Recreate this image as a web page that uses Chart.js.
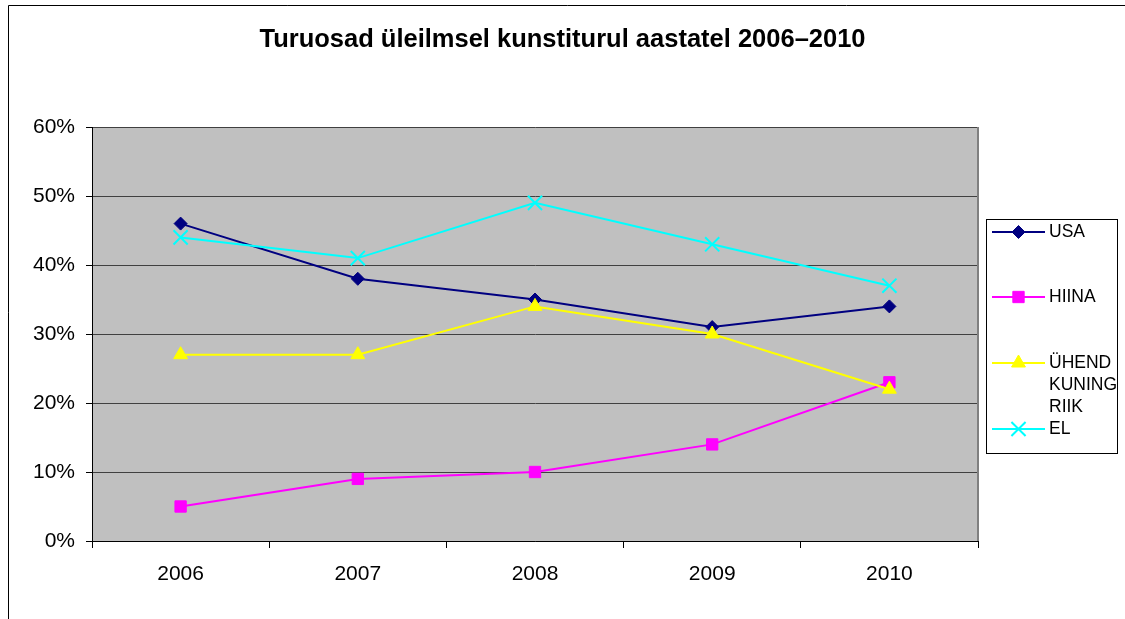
<!DOCTYPE html>
<html>
<head>
<meta charset="utf-8">
<script src="https://cdn.jsdelivr.net/npm/chart.js@4/dist/chart.umd.min.js"></script>
<style>
  html, body { margin: 0; padding: 0; background: #fff; }
  #c { display: block; }
</style>
</head>
<body>
<canvas id="c" width="1125" height="619"></canvas>
<script>
// ---- data ----
const categories = ['2006', '2007', '2008', '2009', '2010'];
const seriesNames = ['USA', 'HIINA', 'ÜHEND KUNING RIIK', 'EL'];
const usaValues = [46, 38, 35, 31, 34];
const hiinaValues = [5, 9, 10, 14, 23];
const ukValues = [27, 27, 34, 30, 22];
const elValues = [44, 41, 49, 43, 37];
const yTickValues = [0, 10, 20, 30, 40, 50, 60];
const titleText = 'Turuosad üleilmsel kunstiturul aastatel 2006–2010';

const FONT = '"Liberation Sans", Arial, sans-serif';

const styles = [
  { color: '#000080', pointStyle: 'rectRot', radius: 6.5, borderWidth: 1 },
  { color: '#FF00FF', pointStyle: 'rect', radius: 8, borderWidth: 1 },
  { color: '#FFFF00', pointStyle: 'triangle', radius: 8, borderWidth: 1 },
  { color: '#00FFFF', pointStyle: 'crossRot', radius: 10, borderWidth: 2 }
];
const seriesValues = [usaValues, hiinaValues, ukValues, elValues];

const datasets = seriesNames.map((name, i) => ({
  label: name,
  data: seriesValues[i],
  borderColor: styles[i].color,
  backgroundColor: styles[i].color,
  borderWidth: 2,
  tension: 0,
  pointStyle: styles[i].pointStyle,
  pointRadius: styles[i].radius,
  pointBorderWidth: styles[i].borderWidth,
  pointBackgroundColor: styles[i].color,
  pointBorderColor: styles[i].color,
  order: seriesNames.length - 1 - i
}));

function drawMarker(ctx, style, x, y) {
  const opts = { pointStyle: style.pointStyle, radius: style.radius, borderWidth: style.borderWidth, rotation: 0 };
  ctx.save();
  ctx.fillStyle = style.color;
  ctx.strokeStyle = style.color;
  ctx.lineWidth = style.borderWidth;
  if (Chart.helpers && Chart.helpers.drawPoint) {
    Chart.helpers.drawPoint(ctx, opts, x, y);
  }
  ctx.restore();
}

const decorPlugin = {
  id: 'decor',
  beforeDraw(chart) {
    const ctx = chart.ctx;
    const a = chart.chartArea;
    ctx.save();
    ctx.fillStyle = '#ffffff';
    ctx.fillRect(0, 0, chart.width, chart.height);
    ctx.fillStyle = '#C0C0C0';
    ctx.fillRect(a.left, a.top, a.right - a.left, a.bottom - a.top);
    // outer chart border
    ctx.strokeStyle = '#000';
    ctx.lineWidth = 1;
    ctx.beginPath();
    ctx.moveTo(8.5, chart.height + 2);
    ctx.lineTo(8.5, 5.5);
    ctx.lineTo(chart.width + 2, 5.5);
    ctx.stroke();
    ctx.restore();
  },
  beforeDatasetsDraw(chart) {
    const ctx = chart.ctx;
    const a = chart.chartArea;
    ctx.save();
    ctx.strokeStyle = '#808080';
    ctx.lineWidth = 2;
    ctx.beginPath();
    ctx.moveTo(a.right, a.top);
    ctx.lineTo(a.right, a.bottom);
    ctx.stroke();
    ctx.restore();
  },
  afterDraw(chart) {
    const ctx = chart.ctx;
    // legend box
    const bx = 986.5, by = 219.5, bw = 131, bh = 234;
    ctx.save();
    ctx.fillStyle = '#fff';
    ctx.fillRect(bx, by, bw, bh);
    ctx.strokeStyle = '#000';
    ctx.lineWidth = 1;
    ctx.strokeRect(bx, by, bw, bh);
    const itemY = [232, 297, 363, 429];
    const lineH = 22;
    ctx.font = '17.5px ' + FONT;
    ctx.textBaseline = 'middle';
    ctx.textAlign = 'left';
    seriesNames.forEach((name, i) => {
      const y = itemY[i];
      const st = styles[i];
      ctx.strokeStyle = st.color;
      ctx.lineWidth = 2;
      ctx.beginPath();
      ctx.moveTo(992, y);
      ctx.lineTo(1045, y);
      ctx.stroke();
      drawMarker(ctx, st, 1018.5, y);
      ctx.fillStyle = '#000';
      const lines = name.split(' ');
      lines.forEach((ln, k) => ctx.fillText(ln, 1049, y + k * lineH));
    });
    ctx.restore();
  }
};

new Chart(document.getElementById('c'), {
  type: 'line',
  data: { labels: categories, datasets },
  plugins: [decorPlugin],
  options: {
    responsive: false,
    animation: false,
    devicePixelRatio: 1,
    layout: { padding: 0 },
    plugins: {
      legend: { display: false },
      tooltip: { enabled: false },
      title: {
        display: true,
        text: titleText,
        color: '#000',
        font: { family: FONT, size: 25.5, weight: 'bold', lineHeight: 1.2 },
        padding: { top: 25, bottom: 71.4 }
      }
    },
    scales: {
      x: {
        type: 'category',
        offset: true,
        grid: { display: true, offset: true, drawOnChartArea: false, drawTicks: true, tickLength: 7, tickColor: '#000', tickWidth: 1 },
        border: { display: true, color: '#000', width: 1 },
        ticks: { color: '#000', font: { family: FONT, size: 21 }, padding: 14, maxRotation: 0 },
        afterFit(s) { s.height = 78; }
      },
      y: {
        min: 0,
        max: 60,
        afterBuildTicks(s) { s.ticks = yTickValues.map(v => ({ value: v })); },
        grid: { color: '#404040', lineWidth: 1, drawTicks: true, tickLength: 6, tickColor: '#000', tickWidth: 1 },
        border: { display: true, color: '#000', width: 1 },
        ticks: { color: '#000', font: { family: FONT, size: 21 }, padding: 11, callback: v => v + '%' },
        afterFit(s) { s.width = 92; }
      },
      yR: {
        position: 'right',
        display: true,
        grid: { display: false, drawTicks: false },
        border: { display: false },
        ticks: { display: false },
        afterFit(s) { s.width = 147; }
      }
    }
  }
});
</script>
</body>
</html>
